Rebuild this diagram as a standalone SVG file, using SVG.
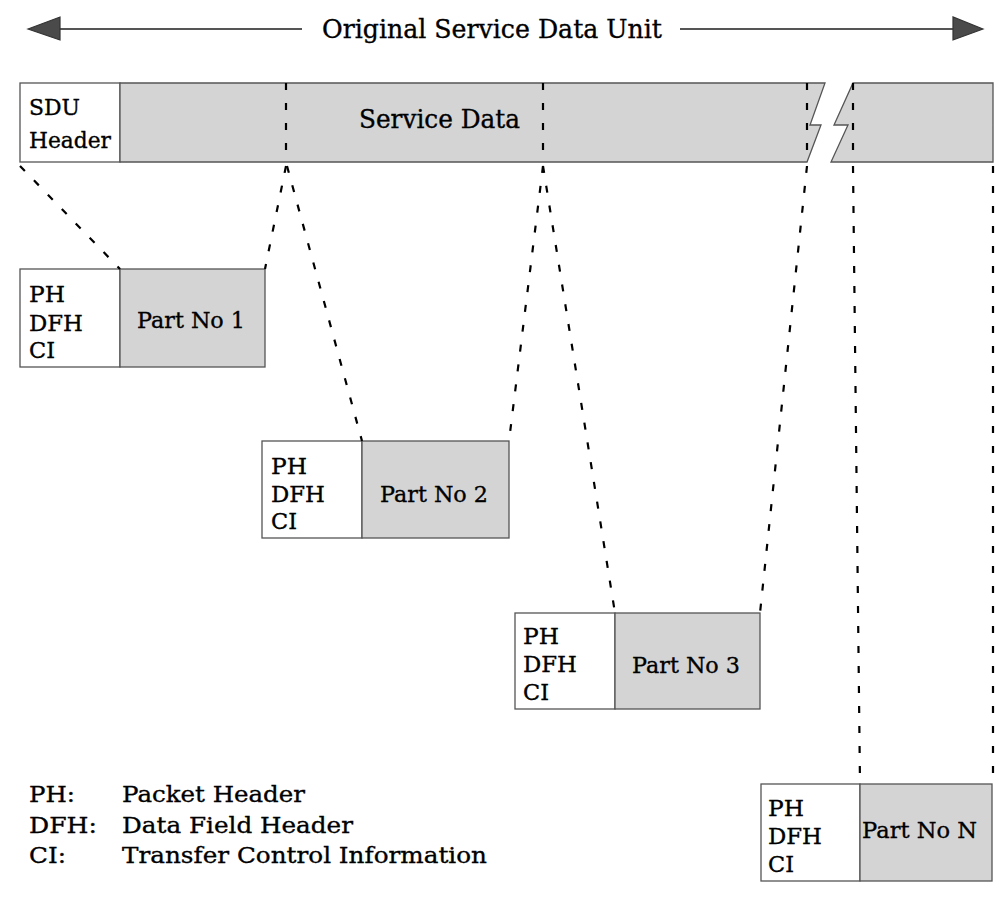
<svg xmlns="http://www.w3.org/2000/svg" width="1008" height="904" viewBox="0 0 1008 904">
<style>
text{font-family:"DejaVu Serif","Liberation Serif",serif;fill:#000;stroke:#000;stroke-width:0.35}
.t{font-size:22px}
.p{font-size:23px}
.big{font-size:26px}
.box{stroke:#555;stroke-width:1.3;fill:#fff}
.g{stroke:#555;stroke-width:1.3;fill:#d4d4d4}
.d{stroke:#000;stroke-width:2.2;stroke-dasharray:7 13;fill:none}
.ar{stroke:#555;stroke-width:2;fill:none}
.ah{fill:#4a4a4a;stroke:#333;stroke-width:1.2}
</style>
<g id="title">
<line class="ar" x1="58" y1="29" x2="302" y2="29"/>
<polygon class="ah" points="28,29 60,17 60,40"/>
<line class="ar" x1="680" y1="29" x2="955" y2="29"/>
<polygon class="ah" points="983,29 953,17 953,40"/>
<text class="big" x="322" y="38" textLength="340" lengthAdjust="spacingAndGlyphs">Original Service Data Unit</text>
</g>
<g id="sdu">
<rect class="box" x="20" y="83" width="100" height="79"/>
<polygon class="g" points="120,83 825,83 810,125 821,125 807,162 120,162"/>
<polygon class="g" points="853,83 993,83 993,162 831,162 848,125 834,125"/>
<text class="t" x="29" y="115" textLength="51" lengthAdjust="spacingAndGlyphs">SDU</text>
<text class="t" x="29" y="148" textLength="82" lengthAdjust="spacingAndGlyphs">Header</text>
<text class="big" x="359" y="128" textLength="161" lengthAdjust="spacingAndGlyphs">Service Data</text>
</g>
<g id="part1">
<rect class="box" x="20" y="269" width="100" height="98"/>
<rect class="g" x="120" y="269" width="145" height="98"/>
<text class="p" x="29" y="302" textLength="36" lengthAdjust="spacingAndGlyphs">PH</text>
<text class="p" x="29" y="331" textLength="54" lengthAdjust="spacingAndGlyphs">DFH</text>
<text class="p" x="29" y="358" textLength="26" lengthAdjust="spacingAndGlyphs">CI</text>
<text class="p" x="137" y="328" textLength="108" lengthAdjust="spacingAndGlyphs">Part No 1</text>
</g>
<g id="part2">
<rect class="box" x="262" y="441" width="100" height="97"/>
<rect class="g" x="362" y="441" width="147" height="97"/>
<text class="p" x="271" y="474" textLength="36" lengthAdjust="spacingAndGlyphs">PH</text>
<text class="p" x="271" y="502" textLength="54" lengthAdjust="spacingAndGlyphs">DFH</text>
<text class="p" x="271" y="529" textLength="26" lengthAdjust="spacingAndGlyphs">CI</text>
<text class="p" x="380" y="502" textLength="108" lengthAdjust="spacingAndGlyphs">Part No 2</text>
</g>
<g id="part3">
<rect class="box" x="515" y="613" width="100" height="96"/>
<rect class="g" x="615" y="613" width="145" height="96"/>
<text class="p" x="523" y="644" textLength="36" lengthAdjust="spacingAndGlyphs">PH</text>
<text class="p" x="523" y="672" textLength="54" lengthAdjust="spacingAndGlyphs">DFH</text>
<text class="p" x="523" y="700" textLength="26" lengthAdjust="spacingAndGlyphs">CI</text>
<text class="p" x="632" y="673" textLength="108" lengthAdjust="spacingAndGlyphs">Part No 3</text>
</g>
<g id="partN">
<rect class="box" x="761" y="784" width="99" height="97"/>
<rect class="g" x="860" y="784" width="132" height="97"/>
<text class="p" x="768" y="816" textLength="36" lengthAdjust="spacingAndGlyphs">PH</text>
<text class="p" x="768" y="844" textLength="54" lengthAdjust="spacingAndGlyphs">DFH</text>
<text class="p" x="768" y="872" textLength="26" lengthAdjust="spacingAndGlyphs">CI</text>
<text class="p" x="862" y="838" textLength="115" lengthAdjust="spacingAndGlyphs">Part No N</text>
</g>
<g id="connectors">
<line class="d" x1="286" y1="83" x2="286" y2="162"/>
<line class="d" x1="543" y1="83" x2="543" y2="162"/>
<line class="d" x1="807" y1="83" x2="807" y2="162"/>
<line class="d" x1="853" y1="83" x2="853" y2="162"/>
<line class="d" x1="20" y1="166" x2="120" y2="269"/>
<line class="d" x1="286" y1="166" x2="265" y2="269"/>
<line class="d" x1="287" y1="166" x2="362" y2="441"/>
<line class="d" x1="543" y1="166" x2="509" y2="441"/>
<line class="d" x1="543" y1="166" x2="615" y2="613"/>
<line class="d" x1="807" y1="166" x2="760" y2="613"/>
<line class="d" x1="853" y1="166" x2="860" y2="784"/>
<line class="d" x1="993" y1="166" x2="993" y2="784"/>
</g>
<g id="legend">
<text class="p" x="29" y="802" textLength="46" lengthAdjust="spacingAndGlyphs">PH:</text>
<text class="p" x="122" y="802" textLength="183" lengthAdjust="spacingAndGlyphs">Packet Header</text>
<text class="p" x="29" y="833" textLength="68" lengthAdjust="spacingAndGlyphs">DFH:</text>
<text class="p" x="122" y="833" textLength="231" lengthAdjust="spacingAndGlyphs">Data Field Header</text>
<text class="p" x="29" y="863" textLength="37" lengthAdjust="spacingAndGlyphs">CI:</text>
<text class="p" x="122" y="863" textLength="365" lengthAdjust="spacingAndGlyphs">Transfer Control Information</text>
</g>
</svg>
